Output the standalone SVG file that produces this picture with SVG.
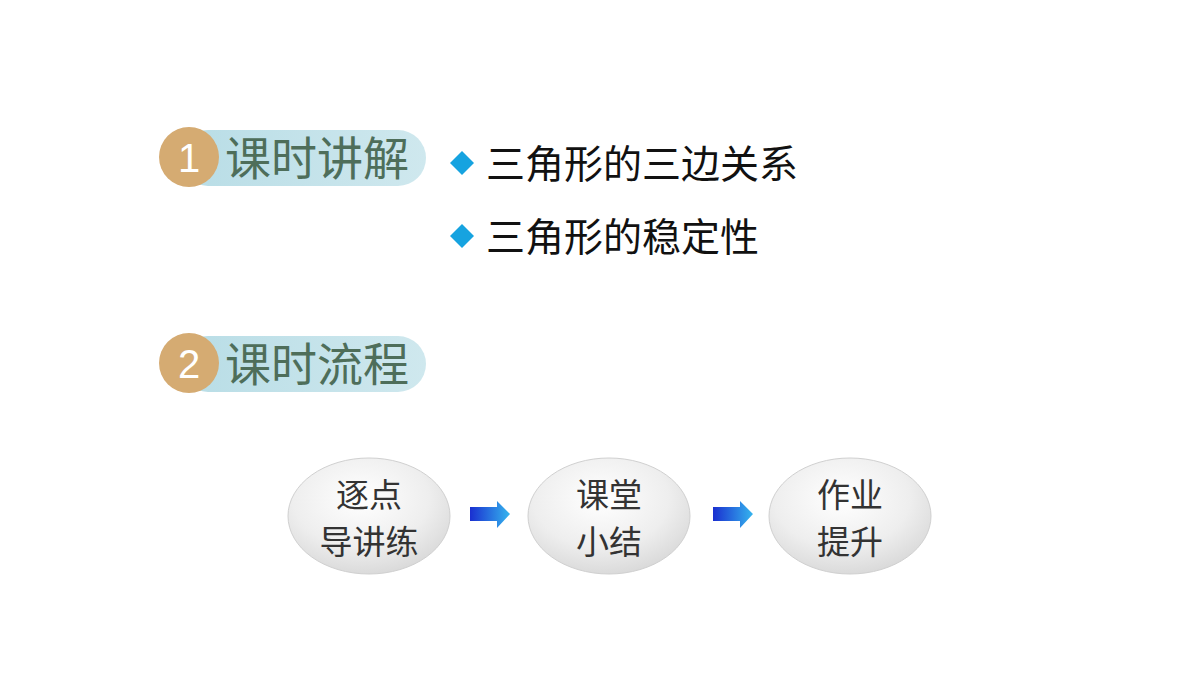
<svg xmlns="http://www.w3.org/2000/svg" width="1200" height="675" viewBox="0 0 1200 675">
<defs>
<radialGradient id="bub" cx="0.45" cy="0.35" r="0.7"><stop offset="0" stop-color="#ffffff"/><stop offset="0.6" stop-color="#eeeeee"/><stop offset="1" stop-color="#d6d6d6"/></radialGradient>
<linearGradient id="arr" x1="0" x2="1"><stop offset="0" stop-color="#1a2fd0"/><stop offset="1" stop-color="#35b5ee"/></linearGradient>
<linearGradient id="pill" x1="0" x2="1"><stop offset="0" stop-color="#b8dde6"/><stop offset="1" stop-color="#cfe8ee"/></linearGradient>
</defs>
<style>
.h{font-family:"Noto Sans CJK SC",sans-serif;font-size:46px;fill:#4e6e5a}
.n{font-family:"Liberation Sans",sans-serif;font-size:40px;fill:#fff}
.b{font-family:"Noto Sans CJK SC",sans-serif;font-size:39px;fill:#111}
.c{font-family:"Noto Sans CJK SC",sans-serif;font-size:33px;fill:#333;text-anchor:middle}
.e{fill:url(#bub);stroke:#d0d0d0;stroke-width:1}
</style>
<rect width="1200" height="675" fill="#fff"/>
<g id="head1"><rect x="180" y="130" width="246" height="56" rx="28" fill="url(#pill)"/><circle cx="189" cy="157" r="30" fill="#d5ab72"/><text class="n" x="189" y="172" text-anchor="middle">1</text><text class="h" x="225" y="175">课时讲解</text></g>
<g id="head2"><rect x="180" y="336" width="246" height="56" rx="28" fill="url(#pill)"/><circle cx="189" cy="363" r="30" fill="#d5ab72"/><text class="n" x="189" y="378" text-anchor="middle">2</text><text class="h" x="225" y="381">课时流程</text></g>
<g id="bullet1"><polygon points="462,151 474,163 462,175 450,163" fill="#16a3e0"/><text class="b" x="486" y="178">三角形的三边关系</text></g>
<g id="bullet2"><polygon points="462,224 474,236 462,248 450,236" fill="#16a3e0"/><text class="b" x="486" y="251">三角形的稳定性</text></g>
<g id="n1"><ellipse class="e" cx="369" cy="516" rx="81" ry="58"/><text class="c" x="369" y="507">逐点</text><text class="c" x="369" y="554">导讲练</text></g>
<g id="n2"><ellipse class="e" cx="609" cy="516" rx="81" ry="58"/><text class="c" x="609" y="507">课堂</text><text class="c" x="609" y="554">小结</text></g>
<g id="n3"><ellipse class="e" cx="850" cy="516" rx="81" ry="58"/><text class="c" x="850" y="507">作业</text><text class="c" x="850" y="554">提升</text></g>
<g id="connectors">
<polygon points="470,507 497,507 497,501 510,514 497,528 497,521 470,521" fill="url(#arr)"/>
<polygon points="713,507 740,507 740,501 753,514 740,528 740,521 713,521" fill="url(#arr)"/>
</g>
</svg>
